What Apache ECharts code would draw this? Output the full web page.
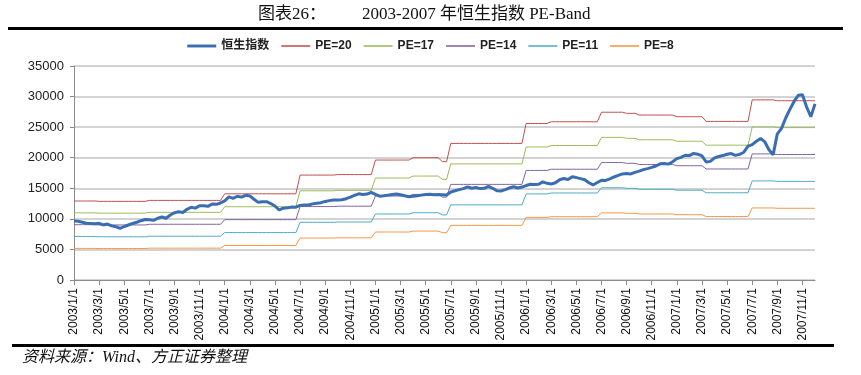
<!DOCTYPE html>
<html>
<head>
<meta charset="utf-8">
<script src="https://cdn.jsdelivr.net/npm/echarts@6/dist/echarts.min.js"></script>
<style>
html,body{margin:0;padding:0;background:#fff;}
#c{width:861px;height:375px;}
</style>
</head>
<body>
<div id="c"></div>
<script>
// ---- data ----
const years = [2003, 2004, 2005, 2006, 2007];
const sampleDays = [1, 11, 21];
const lastDate = '2007/12/1';

// Hang Seng Index, one reading every ~10 days (1st, 11th, 21st of each month)
const hsi = [
  9650, 9600, 9450, 9270, 9250, 9200, 9270, 9000, 9150, 8850, 8720, 8450,
  8750, 9000, 9250, 9450, 9700, 9900, 9850, 9750, 10100, 10300, 10100, 10630,
  11000, 11150, 11050, 11560, 11900, 11750, 12150, 12150, 12050, 12430, 12380, 12600,
  12950, 13600, 13360, 13700, 13550, 13850, 13750, 13200, 12700, 12800, 12800, 12500,
  12100, 11450, 11750, 11800, 11950, 11900, 12200, 12270, 12270, 12450, 12550, 12650,
  12850, 12980, 13080, 13080, 13120, 13300, 13550, 13850, 14100, 14000, 14050, 14330,
  14000, 13700, 13780, 13880, 13980, 14050, 13950, 13780, 13630, 13700, 13780, 13880,
  13980, 14030, 13930, 13980, 13950, 13900, 14400, 14600, 14780, 14950, 15220, 15000,
  15130, 14950, 15000, 15300, 15000, 14600, 14550, 14780, 15050, 15250, 15050, 15200,
  15450, 15650, 15620, 15650, 16050, 15810, 15700, 15900, 16400, 16600, 16450, 16870,
  16750, 16580, 16400, 15900, 15550, 15950, 16300, 16280, 16550, 16850, 17100, 17350,
  17400, 17350, 17600, 17800, 18050, 18220, 18420, 18650, 19000, 19050, 18950, 19350,
  19850, 20050, 20400, 20350, 20700, 20580, 20300, 19300, 19400, 19980, 20200, 20350,
  20560, 20680, 20400, 20550, 20900, 21900, 22150, 22700, 23150, 22600, 21300, 20500,
  23900, 24800, 26500, 27900, 29200, 30200, 30300, 28300, 26700, 28800
];

// trailing EPS (index points) — step changes: date it takes effect, value
const epsDates = ['2003/1/1','2003/3/1','2003/7/1','2004/1/1','2004/7/1','2004/10/1',
  '2005/1/1','2005/4/1','2005/6/11','2005/7/1','2006/1/1','2006/3/1','2006/7/1',
  '2006/9/1','2006/10/1','2007/1/1','2007/3/11','2007/7/1','2007/9/1'];
const epsValues = [646, 643, 651, 705, 858, 862,
  981, 1000, 968, 1117, 1280, 1294, 1372,
  1363, 1349, 1335, 1297, 1473, 1466];

const peMultiples = [20, 17, 14, 11, 8];
const bandNames = ['PE=20', 'PE=17', 'PE=14', 'PE=11', 'PE=8'];
const bandColors = ['#C0504D', '#9BBB59', '#8064A2', '#4BACC6', '#F79646'];
const yTicks = [0, 5000, 10000, 15000, 20000, 25000, 30000, 35000];

// ---- build ----
const categories = [];
outer:
for (const y of years) {
  for (let m = 1; m <= 12; m++) {
    for (const d of sampleDays) {
      const s = y + '/' + m + '/' + d;
      categories.push(s);
      if (s === lastDate) break outer;
    }
  }
}

const epsSeries = [];
let cur = epsValues[0];
categories.forEach(c => {
  const k = epsDates.indexOf(c);
  if (k >= 0) cur = epsValues[k];
  epsSeries.push(cur);
});

const series = [{
  name: '恒生指数', type: 'line', data: hsi, symbol: 'none', z: 10,
  lineStyle: { color: '#3B6DB3', width: 3 }, itemStyle: { color: '#3B6DB3' }
}];
peMultiples.forEach((pe, i) => {
  series.push({
    name: bandNames[i], type: 'line', symbol: 'none', z: 5,
    data: epsSeries.map(e => Math.round(e * pe)),
    lineStyle: { color: bandColors[i], width: 1 }, itemStyle: { color: bandColors[i] }
  });
});

const legendData = [{ name: '恒生指数', icon: 'path://M0,0H30V3H0Z', itemStyle: { color: '#3B6DB3' } }]
  .concat(bandNames.map(n => ({ name: n, icon: 'path://M0,0H30V1.6H0Z' })));

const chart = echarts.init(document.getElementById('c'));
chart.setOption({
  animation: false,
  backgroundColor: '#fff',
  grid: { left: 74, right: 46, top: 66, bottom: 95 },
  legend: {
    top: 35, left: 'center',
    itemWidth: 29, itemHeight: 3, itemGap: 12,
    textStyle: { fontFamily: 'Liberation Sans, Noto Sans CJK SC', fontWeight: 'bold', fontSize: 12, color: '#222' },
    data: legendData
  },
  xAxis: {
    type: 'category', data: categories, boundaryGap: false,
    axisLine: { lineStyle: { color: '#8C8C8C', width: 1 } },
    axisTick: { show: true, interval: 5, length: 5, lineStyle: { color: '#8C8C8C' } },
    axisLabel: { interval: 5, rotate: 90, margin: 8, fontSize: 12, color: '#111', fontFamily: 'Liberation Sans' },
    splitLine: { show: false }
  },
  yAxis: {
    type: 'value', min: yTicks[0], max: yTicks[yTicks.length - 1], interval: 5000,
    axisLine: { show: true, lineStyle: { color: '#8C8C8C' } },
    axisTick: { show: true, length: 4, lineStyle: { color: '#8C8C8C' } },
    axisLabel: { fontSize: 13, color: '#222', margin: 10, fontFamily: 'Liberation Sans', formatter: v => String(v) },
    splitLine: { lineStyle: { color: '#C4C4C4', width: 1.6 } }
  },
  series: series,
  graphic: [
    { type: 'text', left: 258, top: 6, style: { text: '图表26：', font: '17px "Liberation Serif", "Noto Sans CJK SC"', fill: '#111' } },
    { type: 'text', left: 362, top: 6, style: { text: '2003-2007 年恒生指数 PE-Band', font: '17px "Liberation Serif", "Noto Sans CJK SC"', fill: '#111' } },
    { type: 'rect', shape: { x: 8, y: 27, width: 835, height: 3 }, style: { fill: '#000' } },
    { type: 'rect', shape: { x: 12, y: 344, width: 822, height: 3 }, style: { fill: '#000' } },
    { type: 'text', left: 22, top: 350, style: { text: '资料来源：Wind、方正证券整理', font: 'italic 16px "Liberation Serif", "Noto Sans CJK SC"', fill: '#111' } }
  ]
});
</script>
</body>
</html>
